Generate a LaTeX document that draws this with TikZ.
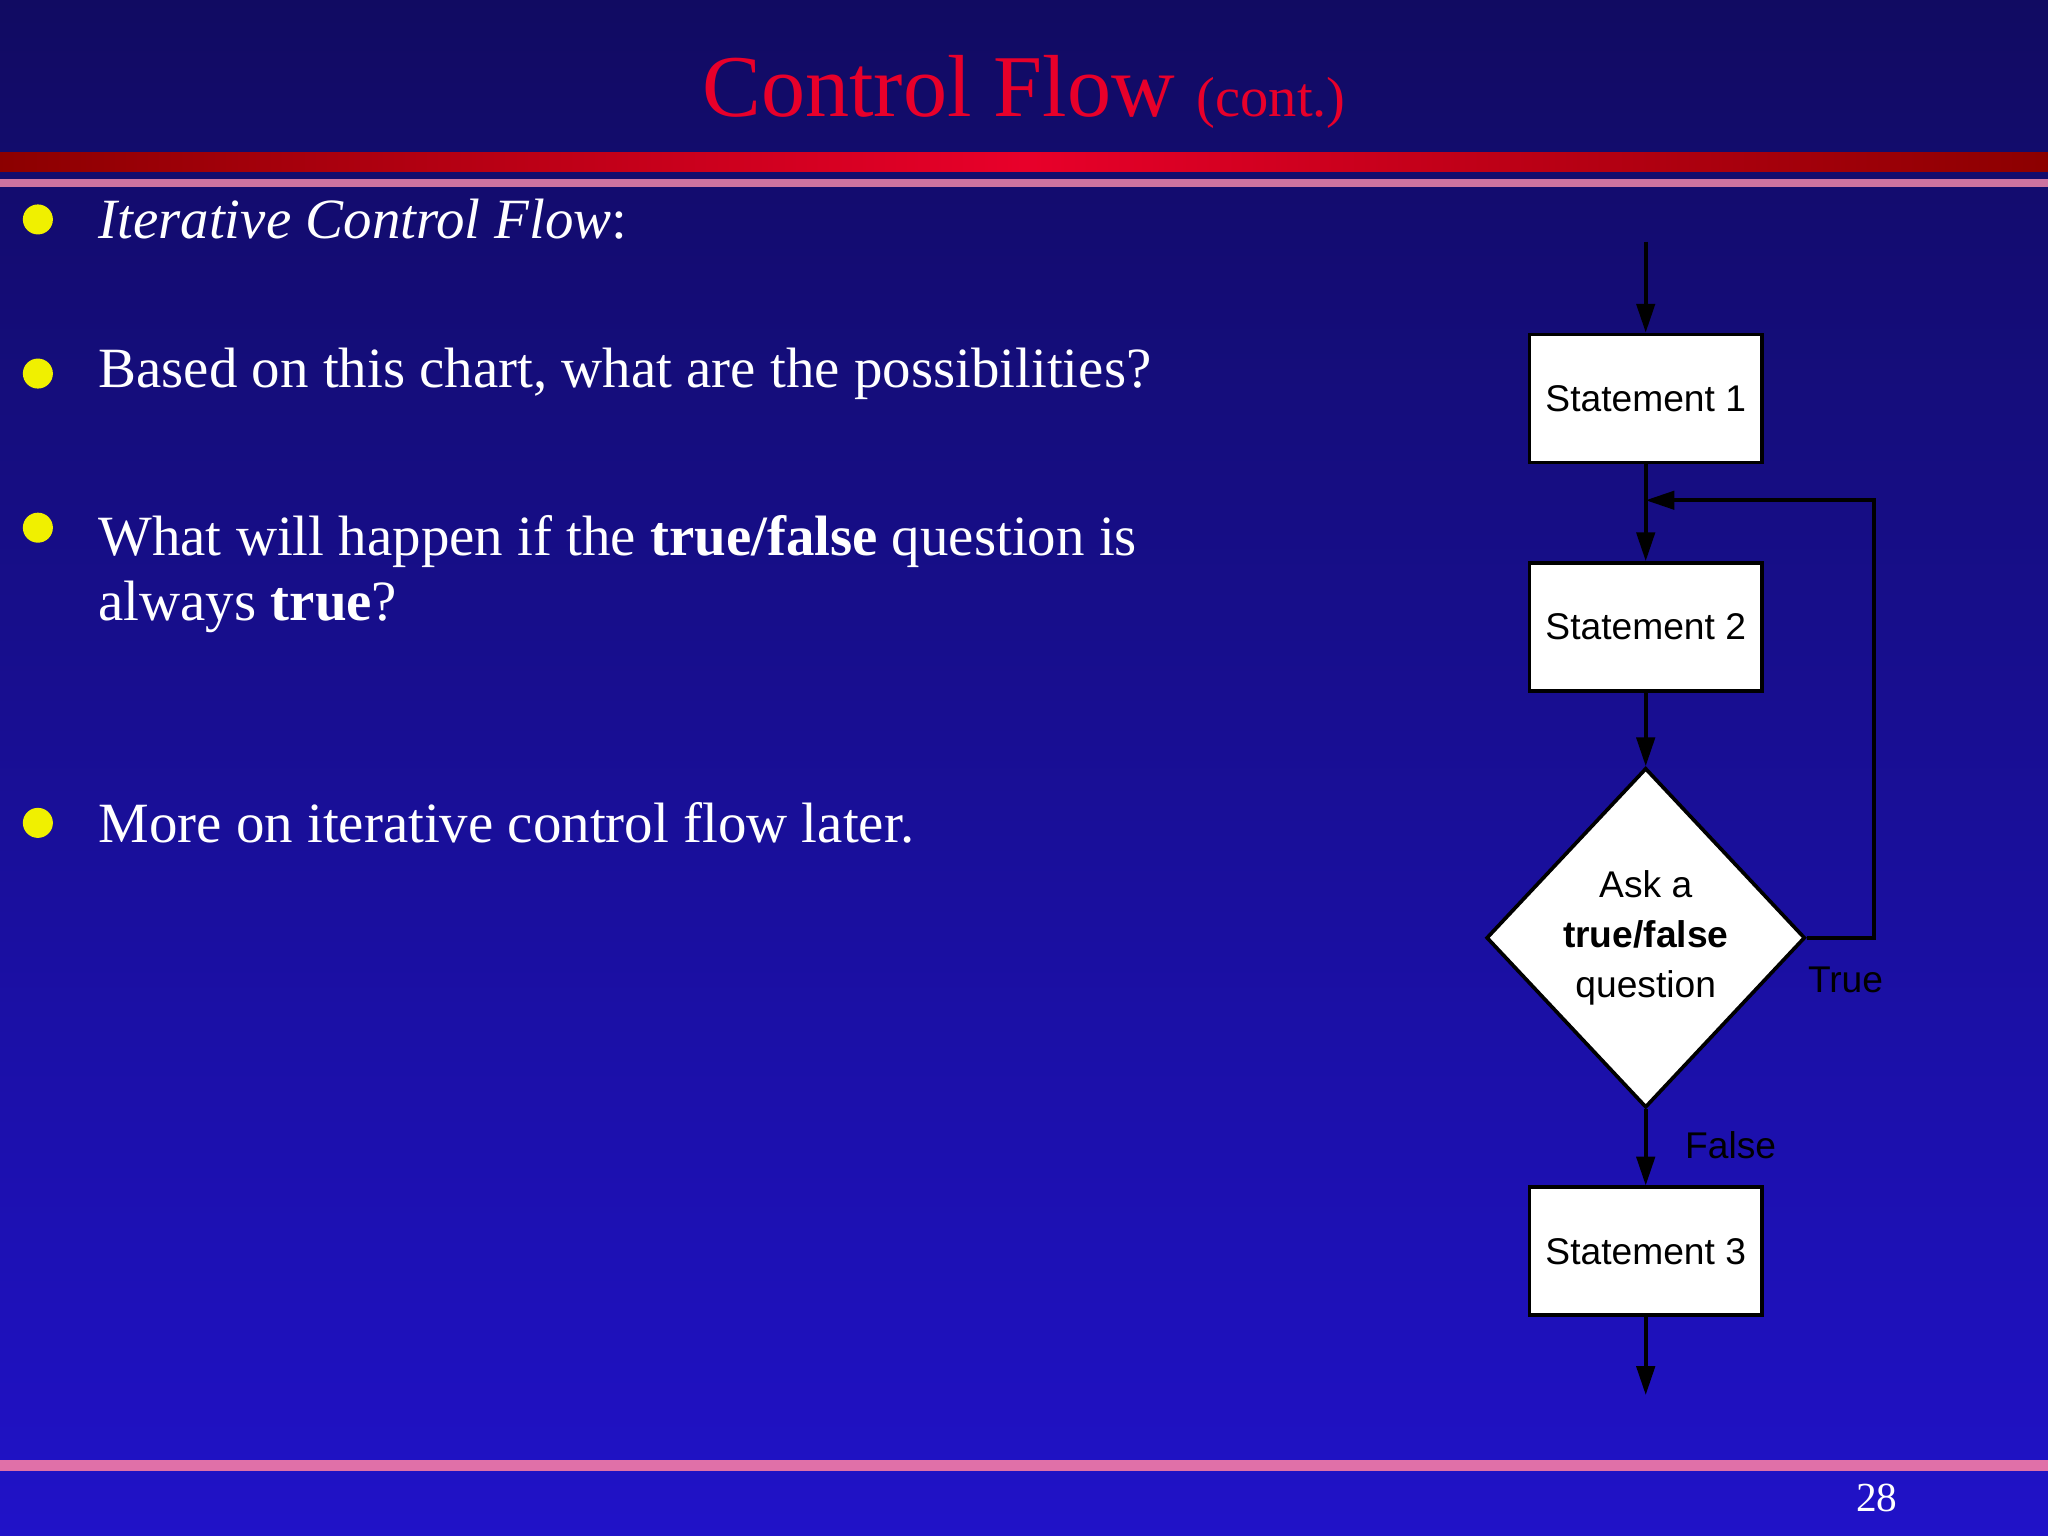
\documentclass[tikz,border=0pt]{standalone}
\usepackage{fontspec}
\setmainfont{Liberation Serif}
\newfontfamily\chartfont{Liberation Sans}
\usetikzlibrary{shapes.geometric,arrows.meta}
\definecolor{bgtop}{HTML}{110B62}
\definecolor{bgbot}{HTML}{2012C8}
\definecolor{titlered}{HTML}{E8002A}
\definecolor{barpink}{HTML}{E070A8}
\definecolor{bullety}{HTML}{F0F000}
\tikzset{
  stmt/.style={draw=black, fill=white, line width=0.8pt, minimum width=17.8mm, minimum height=9.8mm, inner sep=0pt, font=\chartfont\fontsize{8.1}{10}\selectfont},
  ask/.style={draw=black, fill=white, line width=0.8pt, diamond, aspect=0.94, minimum width=24.4mm, minimum height=26mm, inner sep=0pt, align=center, font=\chartfont\fontsize{8.1}{10.8}\selectfont},
  flow/.style={-{Triangle[length=2.2mm,width=1.4mm]}, line width=0.8pt, black},
  lbl/.style={font=\chartfont\fontsize{8.1}{10}\selectfont, text=black},
  bul/.style={circle, fill=bullety, minimum size=2.3mm, inner sep=0pt},
  body/.style={anchor=west, text=white, font=\fontsize{12.4}{14.2}\selectfont, align=left}
}
\begin{document}
\begin{tikzpicture}[x=0.1mm,y=-0.1mm]
\useasboundingbox (0,0) rectangle (1568,1176);
% background and bars
\shade[top color=bgtop, bottom color=bgbot] (0,0) rectangle (1568,1176);
\shade[left color=red!55!black, right color=red!55!black, middle color=titlered] (0,117) rectangle (1568,131);
\fill[barpink!80!gray] (0,137) rectangle (1568,143);
\fill[barpink] (0,1118) rectangle (1568,1126);
% title
\node (title) at (784,70) {\fontsize{19.2}{22}\selectfont\color{titlered}Control Flow {\fontsize{12.3}{14}\selectfont(cont.)}};
% bullets
\node[bul] (b1) at (29,168) {};
\node[body] (t1) at (63,168) {\textit{Iterative Control Flow}:};
\node[bul] (b2) at (29,286) {};
\node[body] (t2) at (63,286) {Based on this chart, what are the possibilities?};
\node[bul] (b3) at (29,404) {};
\node[body, anchor=north west] (t3) at (63,382) {What will happen if the \textbf{true/false} question is\\always \textbf{true}?};
\node[bul] (b4) at (29,630) {};
\node[body] (t4) at (63,630) {More on iterative control flow later.};
% flowchart
\coordinate (in) at (1260,185);
\node[stmt] (s1) at (1260,305) {Statement 1};
\node[stmt] (s2) at (1260,480) {Statement 2};
\node[ask] (q) at (1260,718) {Ask a\\\textbf{true/false}\\question};
\node[stmt] (s3) at (1260,958) {Statement 3};
\coordinate (out) at (1260,1068);
\coordinate (join) at (1260,383);
\coordinate (loopr) at (1435,718);
\coordinate (loopt) at (1435,383);
\draw[flow] (in) -- (s1);
\draw[flow] (s1) -- (s2);
\draw[flow] (s2) -- (q);
\draw[flow] (q) -- (s3);
\draw[flow] (s3) -- (out);
\draw[flow] (q.east) -- (loopr) -- (loopt) -- (join);
\node[lbl] (ltrue) at (1413,750) {True};
\node[lbl] (lfalse) at (1325,877) {False};
% page number
\node[text=white, font=\fontsize{9}{10}\selectfont] (pg) at (1437,1147) {28};
\end{tikzpicture}
\end{document}
